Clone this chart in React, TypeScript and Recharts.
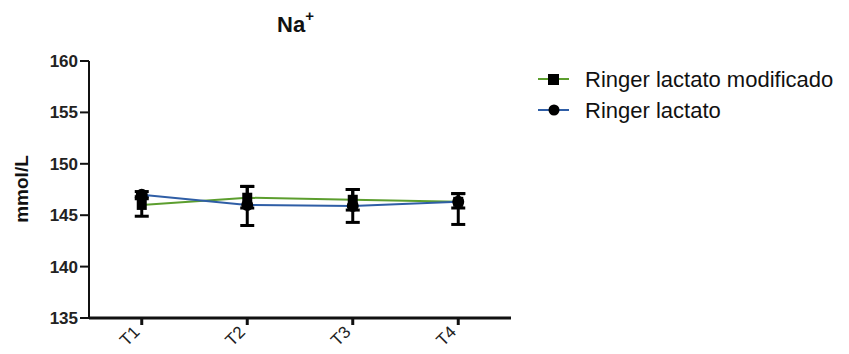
import { LineChart, Line, XAxis, YAxis, ErrorBar, Label } from 'recharts'

const times = ['T1', 'T2', 'T3', 'T4']
const modificado = [146.0, 146.7, 146.5, 146.3]
const modificadoErr: [number, number][] = [
  [1.1, 0.8],
  [1.0, 1.1],
  [1.0, 1.0],
  [0.6, 0.8],
]
const lactato = [147.0, 146.0, 145.9, 146.3]
const lactatoErr: [number, number][] = [
  [0.4, 0.3],
  [2.0, 1.8],
  [1.6, 1.6],
  [2.2, 0.8],
]
const yTicks = [135, 140, 145, 150, 155, 160]

const GREEN = '#5c9e2e'
const BLUE = '#2f5ea6'
const FONT = '"Liberation Sans", Arial, sans-serif'

const data = times.map((t, i) => ({
  t,
  mod: modificado[i],
  modErr: modificadoErr[i],
  lac: lactato[i],
  lacErr: lactatoErr[i],
}))

function XTick({ x, y, payload }: any) {
  return (
    <text
      x={x - 1}
      y={y + 6}
      transform={`rotate(-45, ${x - 1}, ${y + 6})`}
      textAnchor="end"
      fontFamily={FONT}
      fontSize={17}
      fill="#222"
    >
      {payload.value}
    </text>
  )
}

function LegendBox() {
  const items = [
    { label: 'Ringer lactato modificado', color: GREEN, shape: 'square' },
    { label: 'Ringer lactato', color: BLUE, shape: 'circle' },
  ]
  return (
    <svg
      width={314}
      height={70}
      style={{ position: 'absolute', left: 535, top: 66, fontFamily: FONT }}
    >
      {items.map((it, i) => {
        const cy = 13 + i * 31
        return (
          <g key={it.label}>
            <line x1={3} x2={34} y1={cy} y2={cy} stroke={it.color} strokeWidth={2} />
            {it.shape === 'square' ? (
              <rect x={13} y={cy - 5} width={11} height={11} fill="#000" />
            ) : (
              <circle cx={19} cy={cy} r={5.5} fill="#000" />
            )}
            <text x={50} y={cy + 8} fontSize={22} fill="#111">
              {it.label}
            </text>
          </g>
        )
      })}
    </svg>
  )
}

export default function App() {
  return (
    <div style={{ position: 'absolute', left: 0, top: 0, width: 849, height: 354, background: '#fff' }}>
      <LineChart width={849} height={354} data={data} margin={{ top: 61, right: 338, bottom: 0, left: 0 }}>
        <text x={277} y={32} fontFamily={FONT} fontSize={22} fontWeight="bold" fill="#111">
          Na
          <tspan dy={-11} fontSize={15}>+</tspan>
        </text>
        <XAxis
          dataKey="t"
          scale="band"
          height={36}
          tick={<XTick />}
          tickLine={{ stroke: '#111', strokeWidth: 3 }}
          tickSize={7}
          axisLine={{ stroke: '#111', strokeWidth: 3 }}
          interval={0}
        />
        <YAxis
          width={89}
          domain={[135, 160]}
          ticks={yTicks}
          tick={{ fill: '#222', fontSize: 17, fontWeight: 'bold', fontFamily: FONT }}
          tickLine={{ stroke: '#111', strokeWidth: 2 }}
          tickSize={9}
          axisLine={{ stroke: '#111', strokeWidth: 2 }}
          interval={0}
        >
          <Label
            content={() => (
              <text
                x={28}
                y={189}
                transform="rotate(-90, 28, 189)"
                textAnchor="middle"
                fontFamily={FONT}
                fontSize={19}
                fontWeight="bold"
                fill="#111"
              >
                mmol/L
              </text>
            )}
          />
        </YAxis>
        <Line
          dataKey="mod"
          name="Ringer lactato modificado"
          stroke={GREEN}
          strokeWidth={2}
          isAnimationActive={false}
          dot={(p: any) => <rect key={`m${p.index}`} x={p.cx - 5} y={p.cy - 5} width={10} height={10} fill="#000" />}
        >
          <ErrorBar dataKey="modErr" width={7} stroke="#000" strokeWidth={3} direction="y" />
        </Line>
        <Line
          dataKey="lac"
          name="Ringer lactato"
          stroke={BLUE}
          strokeWidth={2}
          isAnimationActive={false}
          dot={{ r: 5, fill: '#000', stroke: '#000' }}
        >
          <ErrorBar dataKey="lacErr" width={7} stroke="#000" strokeWidth={3} direction="y" />
        </Line>
      </LineChart>
      <LegendBox />
    </div>
  )
}
